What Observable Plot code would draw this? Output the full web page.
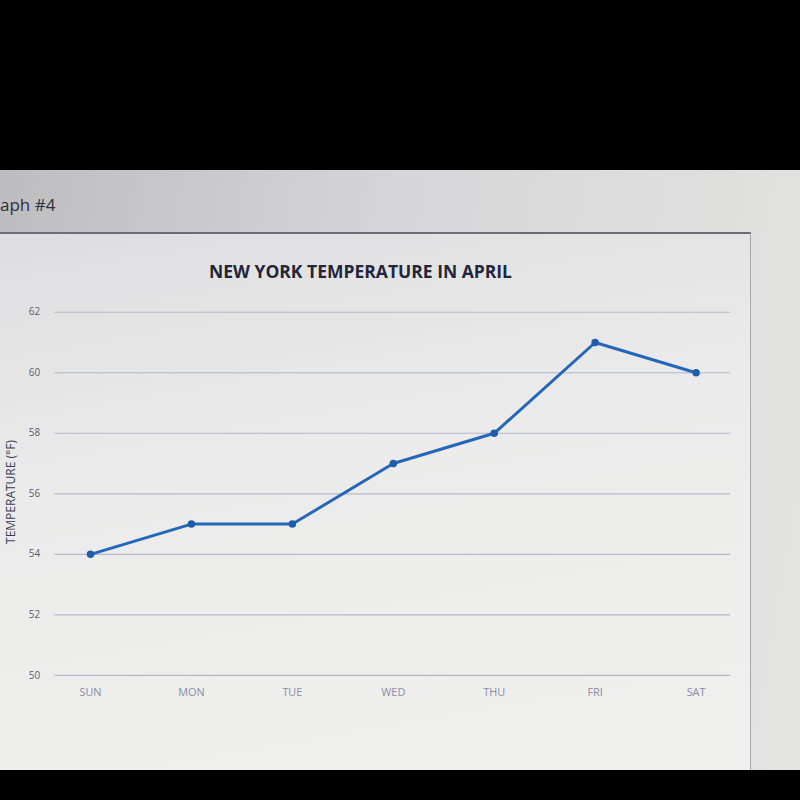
<!DOCTYPE html>
<html>
<head>
<meta charset="utf-8">
<script src="https://cdn.jsdelivr.net/npm/d3@7"></script>
<script src="https://cdn.jsdelivr.net/npm/@observablehq/plot@0.6"></script>
<style>
  html, body { margin: 0; padding: 0; width: 800px; height: 800px; background: #000; overflow: hidden; font-family: "Open Sans", "Noto Sans", sans-serif; }
  #screen { position: absolute; left: 0; top: 170px; width: 800px; height: 600px; overflow: hidden;
    background: linear-gradient(100deg, #bdbdbf 0%, #d6d6d8 45%, #e4e4e2 100%); }
  #graphlabel { position: absolute; left: 0; top: 23px; font-size: 17px; color: #2e2e3a; }
  #box { position: absolute; left: -2px; top: 62px; width: 752px; height: 545px;
    border-top: 2px solid #6a6c7e; border-right: 1px solid #a8a8b0;
    background: linear-gradient(170deg, #dedee0 0%, #ebebeb 40%, #f0f0ee 100%); }
  #title { position: absolute; left: 0; top: 25px; width: 725px; text-align: center; font-weight: bold; font-size: 17.5px; color: #23253a; letter-spacing: 0px; }
  #ylabel { position: absolute; left: 12px; top: 258px; transform: translate(-50%, -50%) rotate(-90deg); transform-origin: center; font-size: 12px; color: #3a3c55; white-space: nowrap; }
  #chart { position: absolute; left: 0; top: 53px; }
</style>
</head>
<body>
<div id="screen">
  <div id="graphlabel">aph #4</div>
  <div id="box">
    <div id="title">NEW YORK TEMPERATURE IN APRIL</div>
    <div id="ylabel">TEMPERATURE (°F)</div>
    <div id="chart"></div>
  </div>
</div>
<script>
const days = ["SUN", "MON", "TUE", "WED", "THU", "FRI", "SAT"];
const temps = [54, 55, 55, 57, 58, 61, 60];
const yTicks = [50, 52, 54, 56, 58, 60, 62];

const data = days.map((d, i) => ({day: d, temp: temps[i]}));

const chart = Plot.plot({
  width: 760,
  height: 430,
  marginLeft: 57,
  marginRight: 20,
  marginTop: 25,
  marginBottom: 38,
  style: {background: "transparent", fontFamily: "Open Sans, Noto Sans, sans-serif", fontSize: "10px", color: "#6c6e80"},
  x: {type: "point", domain: days, padding: 0.34, label: null},
  y: {domain: [50, 62], label: null},
  marks: [
    Plot.gridY(yTicks, {stroke: "#b4b7cc", strokeOpacity: 1, strokeWidth: 1.2}),
    Plot.axisX({tickSize: 0, tickPadding: 13, fontSize: 11, fill: "#8a8ca8"}),
    Plot.axisY(yTicks, {tickSize: 0, tickPadding: 15, fontSize: 10, fill: "#5a5c70", tickFormat: d => d}),
    Plot.line(data, {x: "day", y: "temp", stroke: "#2466b8", strokeWidth: 3}),
    Plot.dot(data, {x: "day", y: "temp", fill: "#1f5cab", r: 3.8})
  ]
});
document.getElementById("chart").appendChild(chart);
</script>
</body>
</html>
